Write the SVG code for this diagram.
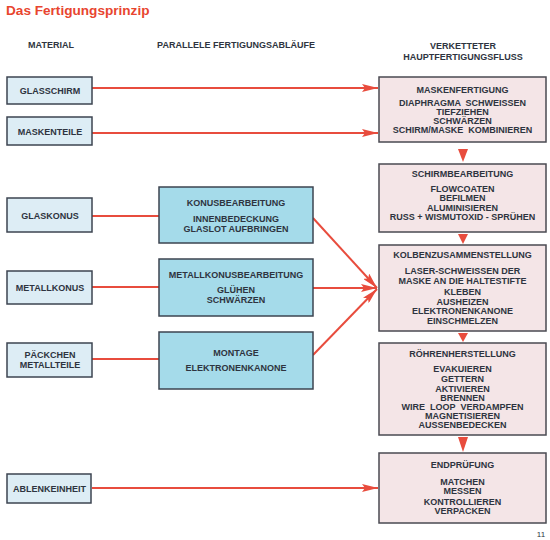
<svg xmlns="http://www.w3.org/2000/svg" width="550" height="540" viewBox="0 0 550 540">
<style>
text{font-family:"Liberation Sans",Arial,sans-serif;font-weight:bold;font-size:9px;fill:#2e3440;text-anchor:middle}
.title{font-size:13.6px;fill:#e8452f;text-anchor:start}
.mat{fill:#ddedf5;stroke:#3d4450;stroke-width:1.5}
.par{fill:#a5dbea;stroke:#3d4450;stroke-width:1.5}
.main{fill:#f4e5e7;stroke:#4a4a52;stroke-width:1.5}
.ln{stroke:#e84c3d;stroke-width:2;fill:none}
.pg{font-size:8px;font-weight:normal}
</style>
<defs>
<marker id="ah" viewBox="0 0 16 8" refX="16" refY="4" markerWidth="16" markerHeight="8" markerUnits="userSpaceOnUse" orient="auto">
<path d="M0,0 L16,4 L0,8 L3,4 Z" fill="#e84c3d"/>
</marker>
</defs>
<rect width="550" height="540" fill="#ffffff"/>
<text class="title" x="6" y="14.5">Das Fertigungsprinzip</text>
<text x="51" y="48">MATERIAL</text>
<text x="236" y="48">PARALLELE FERTIGUNGSABLÄUFE</text>
<text x="463" y="49">VERKETTETER</text>
<text x="463" y="60">HAUPTFERTIGUNGSFLUSS</text>

<g id="connectors">
<line class="ln" x1="92" y1="88" x2="378" y2="88" marker-end="url(#ah)"/>
<line class="ln" x1="92" y1="133" x2="378" y2="133" marker-end="url(#ah)"/>
<line class="ln" x1="92" y1="216" x2="159" y2="216"/>
<line class="ln" x1="92" y1="287" x2="159" y2="287"/>
<line class="ln" x1="92" y1="359" x2="159" y2="359"/>
<line class="ln" x1="313" y1="218" x2="377" y2="288" marker-end="url(#ah)"/>
<line class="ln" x1="313" y1="288" x2="377" y2="288" marker-end="url(#ah)"/>
<line class="ln" x1="313" y1="355" x2="377" y2="289" marker-end="url(#ah)"/>
<line class="ln" x1="92" y1="488" x2="378" y2="488" marker-end="url(#ah)"/>
<path d="M458,149 L468,149 L463,162 Z" fill="#e84c3d"/>
<path d="M458,234 L468,234 L463,244 Z" fill="#e84c3d"/>
<path d="M458,333 L468,333 L463,342 Z" fill="#e84c3d"/>
<path d="M458,437 L468,437 L463,452 Z" fill="#e84c3d"/>
</g>

<g id="glasschirm"><rect class="mat" x="7" y="77" width="85" height="27"/><text x="50" y="94">GLASSCHIRM</text></g>
<g id="maskenteile"><rect class="mat" x="7" y="117" width="85" height="28"/><text x="50" y="134.5">MASKENTEILE</text></g>
<g id="glaskonus"><rect class="mat" x="7" y="198" width="85" height="34"/><text x="50" y="218.5">GLASKONUS</text></g>
<g id="metallkonus"><rect class="mat" x="7" y="271" width="85" height="33"/><text x="50" y="291">METALLKONUS</text></g>
<g id="paeckchen"><rect class="mat" x="7" y="343" width="85" height="34"/><text x="50" y="357.5">PÄCKCHEN</text><text x="50" y="367.5">METALLTEILE</text></g>
<g id="ablenkeinheit"><rect class="mat" x="7" y="474" width="84" height="29"/><text x="49.5" y="492">ABLENKEINHEIT</text></g>

<g id="konusbearbeitung"><rect class="par" x="159" y="187" width="154" height="56"/><text x="236" y="206">KONUSBEARBEITUNG</text><text x="236" y="221.5">INNENBEDECKUNG</text><text x="236" y="231.5">GLASLOT AUFBRINGEN</text></g>
<g id="metallkonusbearbeitung"><rect class="par" x="159" y="259" width="154" height="57"/><text x="236" y="278">METALLKONUSBEARBEITUNG</text><text x="236" y="293">GLÜHEN</text><text x="236" y="303">SCHWÄRZEN</text></g>
<g id="montage"><rect class="par" x="159" y="332" width="154" height="57"/><text x="236" y="355.5">MONTAGE</text><text x="236" y="371">ELEKTRONENKANONE</text></g>

<g id="maskenfertigung"><rect class="main" x="379" y="77" width="167" height="65"/>
<text x="462.5" y="92.5">MASKENFERTIGUNG</text>
<text x="462.5" y="106" xml:space="preserve">DIAPHRAGMA  SCHWEISSEN</text>
<text x="462.5" y="115">TIEFZIEHEN</text>
<text x="462.5" y="124">SCHWÄRZEN</text>
<text x="462.5" y="133" xml:space="preserve">SCHIRM/MASKE  KOMBINIEREN</text></g>
<g id="schirmbearbeitung"><rect class="main" x="379" y="164" width="167" height="68"/>
<text x="462.5" y="176.5">SCHIRMBEARBEITUNG</text>
<text x="462.5" y="191.5">FLOWCOATEN</text>
<text x="462.5" y="201">BEFILMEN</text>
<text x="462.5" y="210.5">ALUMINISIEREN</text>
<text x="462.5" y="220">RUSS + WISMUTOXID - SPRÜHEN</text></g>
<g id="kolbenzusammenstellung"><rect class="main" x="379" y="245" width="167" height="86"/>
<text x="462.5" y="258">KOLBENZUSAMMENSTELLUNG</text>
<text x="462.5" y="274">LASER-SCHWEISSEN DER</text>
<text x="462.5" y="284">MASKE AN DIE HALTESTIFTE</text>
<text x="462.5" y="294.5">KLEBEN</text>
<text x="462.5" y="304.5">AUSHEIZEN</text>
<text x="462.5" y="314">ELEKTRONENKANONE</text>
<text x="462.5" y="323.5">EINSCHMELZEN</text></g>
<g id="roehrenherstellung"><rect class="main" x="379" y="343" width="167" height="92"/>
<text x="462.5" y="356.5">RÖHRENHERSTELLUNG</text>
<text x="462.5" y="371.5">EVAKUIEREN</text>
<text x="462.5" y="382">GETTERN</text>
<text x="462.5" y="391.5">AKTIVIEREN</text>
<text x="462.5" y="400.5">BRENNEN</text>
<text x="462.5" y="410" xml:space="preserve">WIRE  LOOP  VERDAMPFEN</text>
<text x="462.5" y="419">MAGNETISIEREN</text>
<text x="462.5" y="428">AUSSENBEDECKEN</text></g>
<g id="endpruefung"><rect class="main" x="379" y="453" width="167" height="70"/>
<text x="462.5" y="468">ENDPRÜFUNG</text>
<text x="462.5" y="485">MATCHEN</text>
<text x="462.5" y="494">MESSEN</text>
<text x="462.5" y="505">KONTROLLIEREN</text>
<text x="462.5" y="514">VERPACKEN</text></g>
<text class="pg" x="541" y="537">11</text>
</svg>
